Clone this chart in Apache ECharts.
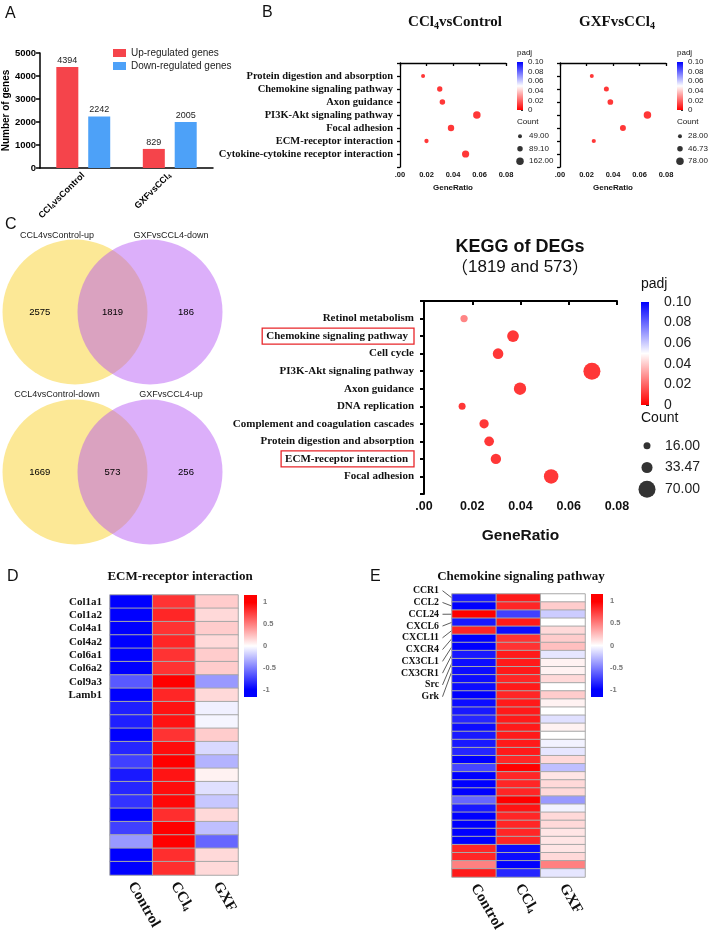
<!DOCTYPE html>
<html><head><meta charset="utf-8">
<script src="https://cdn.jsdelivr.net/npm/echarts@6/dist/echarts.min.js"></script>
<style>html,body{margin:0;padding:0;background:#fff}#c{width:711px;height:937px}</style>
</head><body><div id="c"></div>
<script>
// ---------------- DATA ----------------
const groupsA = ['CCl4vsControl', 'GXFvsCCl4'];
const seriesNamesA = ['Up-regulated genes', 'Down-regulated genes'];
const upRegulated = [4394, 829];
const downRegulated = [2242, 2005];

const bTitles = ['CCl4vsControl', 'GXFvsCCl4'];
const bPathways = ['Protein digestion and absorption', 'Chemokine signaling pathway', 'Axon guidance',
  'PI3K-Akt signaling pathway', 'Focal adhesion', 'ECM-receptor interaction', 'Cytokine-cytokine receptor interaction'];
const bLeftRatio = [0.0174, 0.030, 0.032, 0.058, 0.0385, 0.020, 0.0495];
const bLeftCount = [49, 84, 90, 162, 120, 56, 150];
const bLeftPadj = [0.001, 0.001, 0.001, 0.001, 0.001, 0.001, 0.001];
const bLeftCountLegend = [49.00, 89.10, 162.00];
const bRightRatio = [0.024, 0.035, 0.038, 0.066, 0.0475, 0.0255, null];
const bRightCount = [28, 40, 49, 78, 53, 30, null];
const bRightPadj = [0.001, 0.001, 0.001, 0.001, 0.001, 0.001, null];
const bRightCountLegend = [28.00, 46.73, 78.00];
const padjMax = 0.10;

const vennTopSets = ['CCL4vsControl-up', 'GXFvsCCL4-down'];
const vennTopCounts = [2575, 1819, 186];
const vennBottomSets = ['CCL4vsControl-down', 'GXFvsCCL4-up'];
const vennBottomCounts = [1669, 573, 256];

const keggTitle = 'KEGG of DEGs';
const keggSubtitle = '（1819 and 573）';
const keggPathways = ['Retinol metabolism', 'Chemokine signaling pathway', 'Cell cycle', 'PI3K-Akt signaling pathway',
  'Axon guidance', 'DNA replication', 'Complement and coagulation cascades', 'Protein digestion and absorption',
  'ECM-receptor interaction', 'Focal adhesion'];
const keggRatio = [0.0166, 0.0369, 0.0307, 0.0696, 0.0398, 0.0158, 0.0249, 0.0270, 0.0298, 0.0527];
const keggCount = [17, 37, 31, 70, 40, 16, 25, 27, 30, 53];
const keggPadj = [0.02, 0.001, 0.001, 0.001, 0.001, 0.001, 0.001, 0.001, 0.001, 0.001];
const keggBoxed = ['Chemokine signaling pathway', 'ECM-receptor interaction'];
const keggCountLegend = [16.00, 33.47, 70.00];

const heatColumns = ['Control', 'CCl4', 'GXF'];
const zTicks = [-1, -0.5, 0, 0.5, 1];
const ecmTitle = 'ECM-receptor interaction';
const ecmGenes = ['Col1a1', 'Col1a2', 'Col4a1', 'Col4a2', 'Col6a1', 'Col6a2', 'Col9a3', 'Lamb1'];
const ecmControl = [-1, -1, -1, -1, -1, -1, -0.65, -1, -0.88, -0.88, -1, -0.85, -0.75, -0.9, -0.85, -0.8, -1, -0.75, -0.4, -1, -1];
const ecmCCl4 = [0.8, 0.85, 0.8, 0.85, 0.8, 0.8, 1.0, 0.85, 0.93, 0.93, 0.8, 0.95, 1.0, 0.92, 0.95, 0.97, 0.82, 1.0, 1.0, 0.82, 0.82];
const ecmGXF = [0.2, 0.15, 0.2, 0.15, 0.2, 0.2, -0.4, 0.15, -0.06, -0.04, 0.2, -0.15, -0.3, 0.05, -0.12, -0.22, 0.15, -0.25, -0.6, 0.15, 0.15];

const chemoTitle = 'Chemokine signaling pathway';
const chemoGenes = ['CCR1', 'CCL2', 'CCL24', 'CXCL6', 'CXCL11', 'CXCR4', 'CX3CL1', 'CX3CR1', 'Src', 'Grk'];
const chemoControl = [-0.9, -1, 1.0, -0.9, 0.85, -1, -1, -0.9, -0.95, -0.95, -0.95, -0.95, -1, -0.95, -0.9, -0.85, -0.95, -0.9,
  -0.9, -0.85, -1, -0.72, -1, -1, -1, -0.6, -0.9, -1, -1, -1, -1, 0.85, 0.85, 0.5, 0.9];
const chemoCCl4 = [0.9, 0.85, -0.75, 0.9, -0.95, 0.8, 0.8, 0.9, 0.9, 0.9, 0.85, 0.9, 0.85, 0.9, 0.9, 0.9, 0.9, 0.9,
  0.9, 0.9, 0.85, 1.0, 0.85, 0.85, 0.85, 1.0, 0.92, 0.85, 0.85, 0.85, 0.85, -0.95, -0.95, -1, -0.85];
const chemoGXF = [0.0, 0.2, -0.2, 0.0, 0.15, 0.2, 0.25, -0.1, 0.05, 0.05, 0.15, 0.0, 0.2, 0.05, 0.0, -0.12, 0.05, 0.0,
  -0.05, -0.1, 0.15, -0.25, 0.1, 0.15, 0.15, -0.4, -0.05, 0.15, 0.15, 0.1, 0.1, 0.1, 0.15, 0.5, -0.1];

// ---------------- BUILD ----------------
const SANS = 'Liberation Sans, Arial, sans-serif';
const SERIF = 'Liberation Serif, Times New Roman, serif';
const CJK = '"Noto Sans CJK SC", sans-serif';
const grids = [], xAxes = [], yAxes = [], series = [], titles = [];
const padjSeries = [], heatSeries = [];

function addGrid(g, x, y) {
  grids.push(g);
  const i = grids.length - 1;
  x.gridIndex = i; y.gridIndex = i;
  xAxes.push(x); yAxes.push(y);
  return i;
}
function subText(v) {
  return v.split('CCl4').map(p => p ? '{n|' + p + '}' : '').join('{n|CCl}{s|4}');
}
function subRich(size, weight, family, color) {
  return {
    n: { fontSize: size, fontWeight: weight, fontFamily: family, color: color },
    s: { fontSize: Math.round(size * 0.62), fontWeight: weight, fontFamily: family, color: color, padding: [Math.round(size * 0.45), 0, 0, 0] }
  };
}
function txt(text, left, top, size, opts) {
  titles.push(Object.assign({
    text: text, left: left, top: top, padding: 0,
    textStyle: Object.assign({ fontFamily: SANS, fontSize: size, fontWeight: 'normal', color: '#111' }, (opts && opts.style) || {})
  }, (opts && opts.extra) || {}));
}
function sizeScale(legend, sMin, sMax) {
  const a = Math.sqrt(legend[0]), b = Math.sqrt(legend[legend.length - 1]);
  return c => sMin + (Math.sqrt(c) - a) / (b - a) * (sMax - sMin);
}
const padjGradient = { type: 'linear', x: 0, y: 0, x2: 0, y2: 1,
  colorStops: [{ offset: 0, color: '#0000ff' }, { offset: 0.5, color: '#ffffff' }, { offset: 1, color: '#ff0000' }] };

// ---- Panel letters
txt('A', 5, 6, 16); txt('B', 262, 5, 16); txt('C', 5, 217, 16); txt('D', 7, 569, 16); txt('E', 370, 569, 16);

// ---- Panel A
const black = { color: '#000', width: 1.5 };
const gA = addGrid({ left: 40, top: 53, width: 173, height: 115 },
  { type: 'category', data: groupsA,
    axisLine: { lineStyle: black }, axisTick: { alignWithLabel: true, length: 4, lineStyle: black },
    axisLabel: { rotate: 45, interval: 0, margin: 6, formatter: subText, rich: subRich(9, 'bold', SANS, '#000') } },
  { type: 'value', min: 0, max: 5000, interval: 1000, name: 'Number of genes', nameLocation: 'middle', nameGap: 27,
    nameTextStyle: { fontFamily: SANS, fontWeight: 'bold', fontSize: 10, color: '#000' },
    axisLine: { show: true, lineStyle: black }, axisTick: { show: true, length: 4, lineStyle: black },
    splitLine: { show: false },
    axisLabel: { formatter: v => String(v), fontFamily: SANS, fontWeight: 'bold', fontSize: 9.5, color: '#000', margin: 4 } });
const barLabel = { show: true, position: 'top', distance: 2, fontFamily: SANS, fontSize: 9, color: '#222', formatter: p => String(p.value) };
series.push({ type: 'bar', name: seriesNamesA[0], xAxisIndex: gA, yAxisIndex: gA, data: upRegulated,
  barWidth: 22, barGap: '45%', itemStyle: { color: '#f5444b' }, label: barLabel });
series.push({ type: 'bar', name: seriesNamesA[1], xAxisIndex: gA, yAxisIndex: gA, data: downRegulated,
  barWidth: 22, barGap: '45%', itemStyle: { color: '#4da1f8' }, label: barLabel });

// ---- Dot plots (B and KEGG)
function dotPlot(cfg) {
  const ax = { color: '#000', width: cfg.lw };
  const g = addGrid({ left: cfg.left, top: cfg.top, width: cfg.width, height: cfg.height },
    { type: 'value', min: 0, max: 0.08, interval: 0.02, name: 'GeneRatio', nameLocation: 'middle', nameGap: cfg.nameGap,
      nameTextStyle: { fontFamily: SANS, fontWeight: 'bold', fontSize: cfg.nameSize, color: '#111' },
      axisLine: { lineStyle: ax }, axisTick: { length: cfg.tick, lineStyle: ax }, splitLine: { show: false },
      axisLabel: { formatter: v => v === 0 ? '.00' : v.toFixed(2), fontFamily: SANS, fontWeight: 'bold',
        fontSize: cfg.xLabSize, color: '#111', margin: cfg.xMargin } },
    { type: 'value', min: 0, max: cfg.cats.length + 1, interval: 1, inverse: true,
      axisLine: { show: true, lineStyle: ax }, axisTick: { show: true, length: cfg.tick, lineStyle: ax }, splitLine: { show: false },
      axisLabel: { show: cfg.showCats, margin: cfg.yMargin, fontFamily: SERIF, fontWeight: 'bold', fontSize: cfg.yLabSize, color: '#111',
        formatter: v => {
          if (v < 1 || v > cfg.cats.length) return '';
          const name = cfg.cats[v - 1];
          return (cfg.boxed && cfg.boxed.indexOf(name) >= 0) ? '{box|' + name + '}' : name;
        },
        rich: { box: { fontFamily: SERIF, fontWeight: 'bold', fontSize: cfg.yLabSize, color: '#111',
          borderColor: '#e8262a', borderWidth: 1.3, padding: [3, 6, 2, 4] } } } });
  const sz = sizeScale(cfg.legend, cfg.sMin, cfg.sMax);
  const data = [];
  cfg.ratio.forEach((r, i) => { if (r != null) data.push([r, i + 1, cfg.count[i], cfg.padj[i]]); });
  series.push({ type: 'scatter', xAxisIndex: g, yAxisIndex: g, data: data, symbolSize: v => sz(v[2]), z: 5 });
  padjSeries.push(series.length - 1);

  // colour bar
  const c = cfg.cb;
  const gc = addGrid({ left: c.left, top: c.top, width: c.width, height: c.height },
    { type: 'category', data: ['padj'], show: false },
    { type: 'value', min: 0, max: padjMax, interval: 0.02, position: 'right',
      axisLine: { show: false }, splitLine: { show: false },
      axisTick: { show: true, inside: true, length: c.tick, lineStyle: { color: '#333', width: 1 } },
      axisLabel: { formatter: v => v === 0 ? '0' : v.toFixed(2), fontFamily: SANS, fontSize: c.size, color: '#222', margin: c.margin } });
  series.push({ type: 'bar', xAxisIndex: gc, yAxisIndex: gc, data: [padjMax], barWidth: '100%', silent: true,
    itemStyle: { color: padjGradient } });
  txt('padj', c.left, c.titleTop, c.size);

  // count legend
  const l = cfg.lg;
  const gl = addGrid({ left: l.left, top: l.top, width: l.width, height: l.height },
    { type: 'value', min: -1, max: 1, show: false },
    { type: 'category', data: cfg.legend.map(v => v.toFixed(2)), inverse: true, position: 'right',
      axisLine: { show: false }, axisTick: { show: false },
      axisLabel: { fontFamily: SANS, fontSize: c.size, color: '#222', margin: l.margin } });
  series.push({ type: 'scatter', xAxisIndex: gl, yAxisIndex: gl, data: cfg.legend.map((v, i) => [0, i, v]),
    symbolSize: v => sz(v[2]), itemStyle: { color: '#000' }, silent: true });
  txt('Count', c.left, l.titleTop, c.size);
}

dotPlot({ left: 400, top: 63, width: 106, height: 104, lw: 1.3, tick: 3, nameGap: 17, nameSize: 8, xLabSize: 7.5, xMargin: 4,
  yMargin: 7, yLabSize: 10.5, showCats: true, cats: bPathways, ratio: bLeftRatio, count: bLeftCount, padj: bLeftPadj,
  legend: bLeftCountLegend, sMin: 4, sMax: 7.5,
  cb: { left: 517, top: 62, width: 6, height: 48, tick: 2, size: 8, margin: 5, titleTop: 49 },
  lg: { left: 515, top: 130, width: 10, height: 37.5, margin: 4, titleTop: 118 } });
dotPlot({ left: 560, top: 63, width: 106, height: 104, lw: 1.3, tick: 3, nameGap: 17, nameSize: 8, xLabSize: 7.5, xMargin: 4,
  yMargin: 7, yLabSize: 10.5, showCats: false, cats: bPathways, ratio: bRightRatio, count: bRightCount, padj: bRightPadj,
  legend: bRightCountLegend, sMin: 4, sMax: 7.5,
  cb: { left: 677, top: 62, width: 6, height: 48, tick: 2, size: 8, margin: 5, titleTop: 49 },
  lg: { left: 675, top: 130, width: 10, height: 37.5, margin: 3, titleTop: 118 } });
const bTitleRich = { n: { fontSize: 15, fontWeight: 'bold', fontFamily: SERIF, color: '#111' },
  s: { fontSize: 10, fontWeight: 'bold', fontFamily: SERIF, color: '#111', padding: [7, 0, 0, 0] } };
titles.push({ text: subText(bTitles[0]), left: 455, top: 14, textAlign: 'center', padding: 0, textStyle: { rich: bTitleRich } });
titles.push({ text: subText(bTitles[1]), left: 617, top: 14, textAlign: 'center', padding: 0, textStyle: { rich: bTitleRich } });

dotPlot({ left: 424, top: 301, width: 193, height: 193, lw: 2, tick: 4, nameGap: 34, nameSize: 15.5, xLabSize: 12.5, xMargin: 6,
  yMargin: 10, yLabSize: 11, showCats: true, boxed: keggBoxed, cats: keggPathways, ratio: keggRatio, count: keggCount,
  padj: keggPadj, legend: keggCountLegend, sMin: 7, sMax: 17,
  cb: { left: 641, top: 302, width: 8, height: 103, tick: 3, size: 14, margin: 15, titleTop: 277 },
  lg: { left: 640, top: 435, width: 14, height: 65, margin: 11, titleTop: 411 } });
titles.push({ text: keggTitle, left: 520, top: 238, textAlign: 'center', padding: 0,
  textStyle: { fontFamily: SANS, fontWeight: 'bold', fontSize: 18, color: '#111' } });
const subRichKegg = { p: { fontFamily: CJK, fontSize: 17, fontWeight: 'normal', color: '#111' },
  t: { fontFamily: SANS, fontSize: 17, fontWeight: 'normal', color: '#111' } };
const subParts = keggSubtitle.match(/^(（)(.*)(）)$/);
titles.push({ text: '{p|' + subParts[1] + '}{t|' + subParts[2] + '}{p|' + subParts[3] + '}', left: 520, top: 259, textAlign: 'center', padding: 0,
  textStyle: { fontWeight: 'normal', rich: subRichKegg } });

// ---- Venn diagrams
function venn(top, sets, counts, setTop) {
  const g = addGrid({ left: 0, top: top, width: 225, height: 144 },
    { type: 'value', min: 0, max: 3, show: false }, { type: 'value', min: 0, max: 1, show: false });
  series.push({ type: 'scatter', xAxisIndex: g, yAxisIndex: g, symbolSize: 145, silent: true,
    data: [{ value: [1, 0.5], itemStyle: { color: '#fce896', opacity: 1 } },
           { value: [2, 0.5], itemStyle: { color: '#b24df4', opacity: 0.45 } }] });
  const at = [0.53, 1.5, 2.48];
  series.push({ type: 'scatter', xAxisIndex: g, yAxisIndex: g, symbolSize: 0.1, silent: true, z: 6,
    itemStyle: { color: '#000', opacity: 1 },
    label: { show: true, position: 'inside', formatter: p => String(p.value[2]), fontFamily: SANS, fontSize: 9.5, color: '#000' },
    data: counts.map((c, i) => [at[i], 0.5, c]) });
  titles.push({ text: sets[0], left: 57, top: setTop, textAlign: 'center', padding: 0, textStyle: { fontFamily: SANS, fontSize: 9, color: '#222', fontWeight: 'normal' } });
  titles.push({ text: sets[1], left: 171, top: setTop, textAlign: 'center', padding: 0, textStyle: { fontFamily: SANS, fontSize: 9, color: '#222', fontWeight: 'normal' } });
}
venn(240, vennTopSets, vennTopCounts, 231);
venn(400, vennBottomSets, vennBottomCounts, 390);

// ---- Heatmaps
function heatmap(cfg) {
  const g = addGrid({ left: cfg.left, top: cfg.top, width: cfg.width, height: cfg.height },
    { type: 'category', data: heatColumns, axisLine: { show: false }, axisTick: { show: false },
      axisLabel: { rotate: -60, interval: 0, margin: 8, formatter: subText, rich: subRich(15, 'bold', SERIF, '#111') } },
    { type: 'category', data: cfg.cols[0].map((_, i) => String(i)), inverse: true, axisLine: { show: false }, axisTick: { show: false },
      axisLabel: { show: cfg.showRows, interval: 0, margin: 8, fontFamily: SERIF, fontWeight: 'bold', fontSize: 11, color: '#111',
        formatter: v => cfg.genes[+v] || '' } });
  const data = [];
  cfg.cols.forEach((col, c) => col.forEach((v, r) => data.push([c, r, v])));
  series.push({ type: 'heatmap', xAxisIndex: g, yAxisIndex: g, data: data,
    itemStyle: { borderColor: '#a8a8a8', borderWidth: 1 } });
  heatSeries.push(series.length - 1);

  const c = cfg.cb;
  const ext = 1.16;
  const gc = addGrid({ left: c.left, top: c.top, width: c.width, height: c.height },
    { type: 'category', data: ['z'], show: false },
    { type: 'value', min: -ext, max: ext, position: 'right', axisLine: { show: false }, axisTick: { show: false },
      splitLine: { show: false },
      axisLabel: { customValues: zTicks, fontFamily: SANS, fontWeight: 'bold', fontSize: 7.5, color: '#777', margin: c.margin } });
  series.push({ type: 'bar', xAxisIndex: gc, yAxisIndex: gc, data: [ext], barWidth: '100%', barGap: '-100%', silent: true,
    itemStyle: { color: { type: 'linear', x: 0, y: 0, x2: 0, y2: 1, colorStops: [{ offset: 0, color: '#ff0000' }, { offset: 0.15, color: '#ff0000' }, { offset: 1, color: '#ffffff' }] } } });
  series.push({ type: 'bar', xAxisIndex: gc, yAxisIndex: gc, data: [-ext], barWidth: '100%', barGap: '-100%', silent: true,
    itemStyle: { color: { type: 'linear', x: 0, y: 0, x2: 0, y2: 1, colorStops: [{ offset: 0, color: '#ffffff' }, { offset: 0.85, color: '#0000ff' }, { offset: 1, color: '#0000ff' }] } } });
  titles.push({ text: cfg.title, left: cfg.titleX, top: 570, textAlign: 'center', padding: 0,
    textStyle: { fontFamily: SERIF, fontWeight: 'bold', fontSize: 13, color: '#111' } });
  return g;
}
heatmap({ left: 110, top: 595, width: 128, height: 280, cols: [ecmControl, ecmCCl4, ecmGXF], genes: ecmGenes, showRows: true,
  cb: { left: 244, top: 595, width: 13, height: 102, margin: 6 }, title: ecmTitle, titleX: 180 });
const gE = heatmap({ left: 452, top: 594, width: 133, height: 283, cols: [chemoControl, chemoCCl4, chemoGXF], genes: [], showRows: false,
  cb: { left: 591, top: 594, width: 12, height: 103, margin: 7 }, title: chemoTitle, titleX: 521 });
const gELab = addGrid({ left: 441, top: 584.8, width: 1, height: 117.8 },
  { type: 'value', min: 0, max: 1, show: false },
  { type: 'category', data: chemoGenes, inverse: true, axisLine: { show: false }, axisTick: { show: false },
    axisLabel: { interval: 0, margin: 2, fontFamily: SERIF, fontWeight: 'bold', fontSize: 9.8, color: '#111' } });

const option = {
  backgroundColor: '#fff',
  animation: false,
  title: titles,
  legend: { data: seriesNamesA, left: 108, top: 43, orient: 'vertical', itemWidth: 13, itemHeight: 8, itemGap: 3, icon: 'rect',
    textStyle: { fontFamily: SANS, fontSize: 10, color: '#222' }, selectedMode: false },
  grid: grids, xAxis: xAxes, yAxis: yAxes,
  visualMap: [
    { type: 'continuous', show: false, seriesIndex: padjSeries, dimension: 3, min: 0, max: padjMax,
      inRange: { color: ['#ff0000', '#ffffff', '#0000ff'] } },
    { type: 'continuous', show: false, seriesIndex: heatSeries, dimension: 2, min: -1, max: 1,
      inRange: { color: ['#0000ff', '#ffffff', '#ff0000'] } }
  ],
  series: series
};
const chart = echarts.init(document.getElementById('c'), null, { renderer: 'canvas' });
chart.setOption(option);

// leader lines for the labelled chemokine genes
const leaders = chemoGenes.map((g, k) => {
  const pl = chart.convertToPixel({ gridIndex: gELab }, [0, k]);
  const p0 = chart.convertToPixel({ gridIndex: gE }, [0, k]);
  const p1 = chart.convertToPixel({ gridIndex: gE }, [1, k]);
  const left = p0[0] - (p1[0] - p0[0]) / 2;
  return { type: 'line', shape: { x1: pl[0] + 1.5, y1: pl[1], x2: left, y2: p0[1] }, style: { stroke: '#333', lineWidth: 0.8 }, silent: true };
});
chart.setOption({ graphic: leaders });
</script></body></html>
